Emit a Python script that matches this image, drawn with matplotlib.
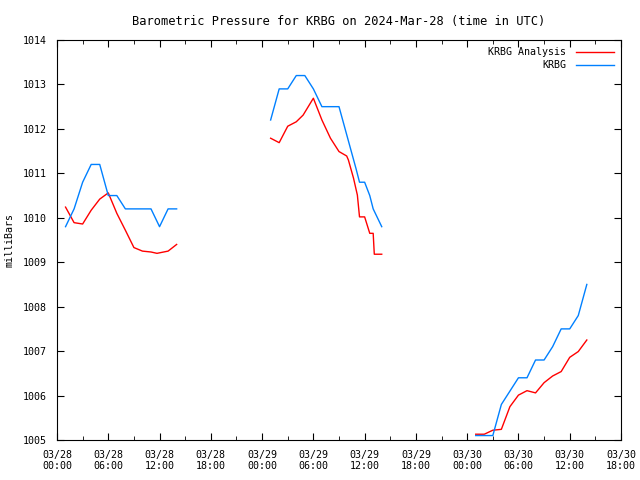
import numpy as np
import matplotlib
matplotlib.use("Agg")
import matplotlib.pyplot as plt
from matplotlib.ticker import MultipleLocator

# hours since 2024-03-28 00:00 UTC
# --- KRBG observations (blue) ---
obs1_h = [1, 2, 3, 4, 5, 6, 7, 8, 9, 10, 11, 12, 13, 14]
obs1_p = [1009.8, 1010.2, 1010.8, 1011.2, 1011.2, 1010.5, 1010.5,
          1010.2, 1010.2, 1010.2, 1010.2, 1009.8, 1010.2, 1010.2]

obs2_h = [25, 26, 27, 28, 29, 30, 31, 32, 33, 34, 35, 35.4, 36, 36.6, 37, 38]
obs2_p = [1012.2, 1012.9, 1012.9, 1013.2, 1013.2, 1012.9, 1012.5, 1012.5,
          1012.5, 1011.8, 1011.1, 1010.8, 1010.8, 1010.5, 1010.2, 1009.8]

obs3_h = [49, 50, 51, 52, 53, 54, 55, 56, 57, 58, 59, 60, 61, 62]
obs3_p = [1005.1, 1005.1, 1005.1, 1005.8, 1006.1, 1006.4, 1006.4,
          1006.8, 1006.8, 1007.1, 1007.5, 1007.5, 1007.8, 1008.5]

# --- KRBG Analysis (red) ---
ana1_h = [1, 2, 3, 4, 5, 6, 7, 8, 9, 10, 11, 11.7, 13, 14]
ana1_p = [1010.24, 1009.89, 1009.86, 1010.17, 1010.42, 1010.56, 1010.1,
          1009.72, 1009.33, 1009.25, 1009.23, 1009.2, 1009.25, 1009.4]

ana2_h = [25, 26, 27, 28, 28.8, 30, 31, 32, 33, 33.9, 34.1, 34.7, 35.15,
          35.4, 36, 36.6, 37, 37.13, 38]
ana2_p = [1011.79, 1011.69, 1012.06, 1012.16, 1012.31, 1012.69, 1012.2,
          1011.79, 1011.49, 1011.39, 1011.3, 1010.89, 1010.51, 1010.02,
          1010.02, 1009.65, 1009.65, 1009.18, 1009.18]

ana3_h = [49, 50, 51, 52, 53, 54, 55, 56, 57, 58, 59, 60, 61, 62]
ana3_p = [1005.13, 1005.13, 1005.22, 1005.24, 1005.75, 1006.01, 1006.11,
          1006.06, 1006.29, 1006.44, 1006.54, 1006.86, 1006.99, 1007.25]

tick_hours = list(range(0, 67, 6))
tick_labels = ["03/28\n00:00", "03/28\n06:00", "03/28\n12:00", "03/28\n18:00",
               "03/29\n00:00", "03/29\n06:00", "03/29\n12:00", "03/29\n18:00",
               "03/30\n00:00", "03/30\n06:00", "03/30\n12:00", "03/30\n18:00"]

plt.rcParams["font.family"] = "DejaVu Sans Mono"
plt.rcParams["font.size"] = 7.2

fig = plt.figure(figsize=(6.4, 4.8), dpi=100)
ax = fig.add_axes([57 / 640, 40 / 480, 564 / 640, 400 / 480])

red = "#ff0000"
blue = "#0080ff"
lw = 1.0

ax.plot(ana1_h, ana1_p, color=red, lw=lw, label="KRBG Analysis")
ax.plot(ana2_h, ana2_p, color=red, lw=lw)
ax.plot(ana3_h, ana3_p, color=red, lw=lw)
ax.plot(obs1_h, obs1_p, color=blue, lw=lw, label="KRBG")
ax.plot(obs2_h, obs2_p, color=blue, lw=lw)
ax.plot(obs3_h, obs3_p, color=blue, lw=lw)

ax.set_xlim(0, 66)
ax.set_ylim(1005, 1014)
ax.set_xticks(tick_hours)
ax.set_xticklabels(tick_labels)
ax.xaxis.set_minor_locator(MultipleLocator(3))
ax.yaxis.set_major_locator(MultipleLocator(1))
ax.tick_params(direction="in", top=True, right=True, which="both", length=5, pad=7)
ax.tick_params(which="minor", length=3)

ax.set_title("Barometric Pressure for KRBG on 2024-Mar-28 (time in UTC)", pad=11)
ax.set_ylabel("milliBars")
ax.yaxis.set_label_coords(-42 / 564, 0.5)

ax.legend(loc="upper right", frameon=False, markerfirst=False,
          handlelength=3.8, borderaxespad=0.35, labelspacing=0.3, handletextpad=0.9)

fig.savefig("out.png", dpi=100)
